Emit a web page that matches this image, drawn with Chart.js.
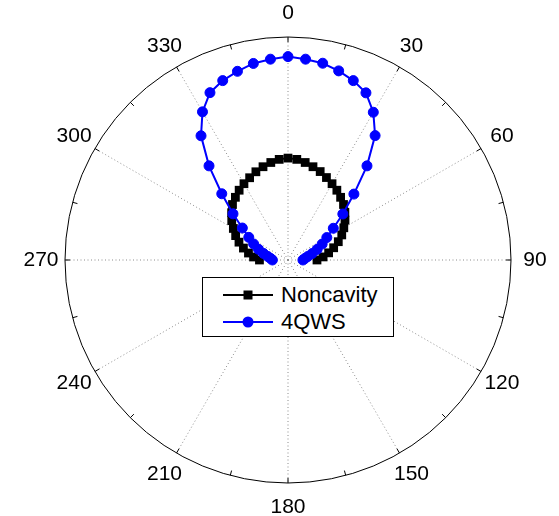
<!DOCTYPE html>
<html>
<head>
    <script src="https://cdn.jsdelivr.net/npm/chart.js"></script>
    <style>
        body {
            margin: 0;
            background-color: white;
            font-family: "Liberation Sans", Arial, sans-serif;
        }

        .wrap {
            position: relative;
            width: 559px;
            height: 516px;
        }

        .legend {
            position: absolute;
            left: 202px;
            top: 277px;
            width: 190px;
            height: 58px;
            border: 1px solid #000;
            background-color: white;
        }

        .row {
            position: absolute;
            left: 20px;
            height: 26px;
            display: flex;
            align-items: center;
            font-size: 22px;
            color: #000;
        }

        .key {
            position: relative;
            width: 50px;
            height: 2px;
            margin-right: 8px;
        }

        .key i {
            position: absolute;
            left: 50%;
            top: 50%;
            transform: translate(-50%, -50%);
        }
    </style>
</head>
<body>

    <div class="wrap">
        <canvas id="polarChart" width="559" height="516"></canvas>
        <div class="legend">
            <div class="row" style="top: 4px;">
                <span class="key" style="background: #000;"><i style="width: 9px; height: 9px; background: #000;"></i></span>
                Noncavity
            </div>
            <div class="row" style="top: 31px;">
                <span class="key" style="background: #0000ff;"><i style="width: 11px; height: 11px; border-radius: 50%; background: #0000ff;"></i></span>
                4QWS
            </div>
        </div>
    </div>

    <script>
        // Slots every 5 degrees, clockwise from the top
        const angleSlots = Array.from({ length: 72 }, (_, i) => i * 5);
        const tickAngles = [0, 30, 60, 90, 120, 150, 180, 210, 240, 270, 300, 330];

        // Measured angles (degrees), front half only
        const sampleAngles = [270, 275, 280, 285, 290, 295, 300, 305, 310, 315, 320, 325, 330, 335, 340, 345, 350, 355,
                              0, 5, 10, 15, 20, 25, 30, 35, 40, 45, 50, 55, 60, 65, 70, 75, 80, 85, 90];

        // Normalised radiation pattern
        const noncavity = [0.128, 0.155, 0.180, 0.207, 0.234, 0.259, 0.283, 0.308, 0.330, 0.352, 0.367, 0.382, 0.395, 0.407, 0.421, 0.433, 0.444, 0.453,
                           0.457, 0.453, 0.444, 0.433, 0.422, 0.408, 0.395, 0.382, 0.367, 0.352, 0.333, 0.312, 0.289, 0.266, 0.240, 0.212, 0.185, 0.158, 0.130];
        const qws = [0.070, 0.078, 0.092, 0.114, 0.141, 0.170, 0.203, 0.250, 0.322, 0.420, 0.551, 0.680, 0.767, 0.828, 0.856, 0.876, 0.895, 0.904,
                     0.912, 0.904, 0.896, 0.878, 0.856, 0.827, 0.765, 0.681, 0.551, 0.418, 0.321, 0.248, 0.201, 0.169, 0.139, 0.112, 0.090, 0.076, 0.067];

        // Spread the samples over the 5 degree slots, gaps stay null
        function toSlots(values) {
            let slots = new Array(angleSlots.length).fill(null);
            sampleAngles.forEach((a, k) => {
                slots[angleSlots.indexOf(a)] = values[k];
            });
            return slots;
        }

        // Rim ticks every 15 degrees and the angle labels
        const rimPlugin = {
            id: "rim",
            beforeDatasetsDraw(chart) {
                let scale = chart.scales.r;
                let R = scale.drawingArea;
                let ctx = chart.ctx;
                ctx.save();
                ctx.strokeStyle = "#000";
                ctx.lineWidth = 1;
                angleSlots.forEach((a, i) => {
                    if (a % 15 !== 0) return;
                    let p1 = scale.getPointPosition(i, R);
                    let p2 = scale.getPointPosition(i, R - 5);
                    ctx.beginPath();
                    ctx.moveTo(p1.x, p1.y);
                    ctx.lineTo(p2.x, p2.y);
                    ctx.stroke();
                });
                ctx.restore();
            },
            afterDraw(chart) {
                let scale = chart.scales.r;
                let ctx = chart.ctx;
                ctx.save();
                ctx.fillStyle = "#000";
                ctx.font = '21px "Liberation Sans", Arial, sans-serif';
                ctx.textAlign = "center";
                ctx.textBaseline = "middle";
                tickAngles.forEach(a => {
                    let p = scale.getPointPosition(angleSlots.indexOf(a), scale.drawingArea + 24);
                    ctx.fillText(String(a), p.x, p.y);
                });
                ctx.restore();
            }
        };

        let ctx = document.getElementById("polarChart").getContext("2d");
        let chart = new Chart(ctx, {
            type: "radar",
            data: {
                labels: angleSlots,
                datasets: [
                    {
                        label: "Noncavity",
                        data: toSlots(noncavity),
                        borderColor: "#000",
                        backgroundColor: "#000",
                        borderWidth: 2,
                        pointStyle: "rect",
                        pointRadius: 6.2,
                        pointBorderWidth: 0,
                        fill: false,
                        tension: 0,
                        spanGaps: false,
                        order: 2
                    },
                    {
                        label: "4QWS",
                        data: toSlots(qws),
                        borderColor: "#0000ff",
                        backgroundColor: "#0000ff",
                        borderWidth: 2,
                        pointStyle: "circle",
                        pointRadius: 5,
                        pointBorderWidth: 1,
                        fill: false,
                        tension: 0,
                        spanGaps: false,
                        order: 1
                    }
                ]
            },
            options: {
                responsive: false,
                animation: false,
                layout: { padding: { left: 65, right: 48, top: 37, bottom: 33 } },
                plugins: {
                    legend: { display: false },
                    tooltip: { enabled: false }
                },
                scales: {
                    r: {
                        min: 0,
                        max: 1,
                        ticks: { display: false, stepSize: 1 },
                        grid: {
                            circular: true,
                            color: c => c.tick.value === 1 ? "#000" : "rgba(0,0,0,0)",
                            lineWidth: 1
                        },
                        angleLines: {
                            color: c => c.index % 6 === 0 ? "#8c8c8c" : "rgba(0,0,0,0)",
                            lineWidth: c => c.index % 6 === 0 ? 1 : 0,
                            borderDash: [1, 2.5]
                        },
                        pointLabels: { display: false }
                    }
                }
            },
            plugins: [rimPlugin]
        });
    </script>

</body>
</html>
